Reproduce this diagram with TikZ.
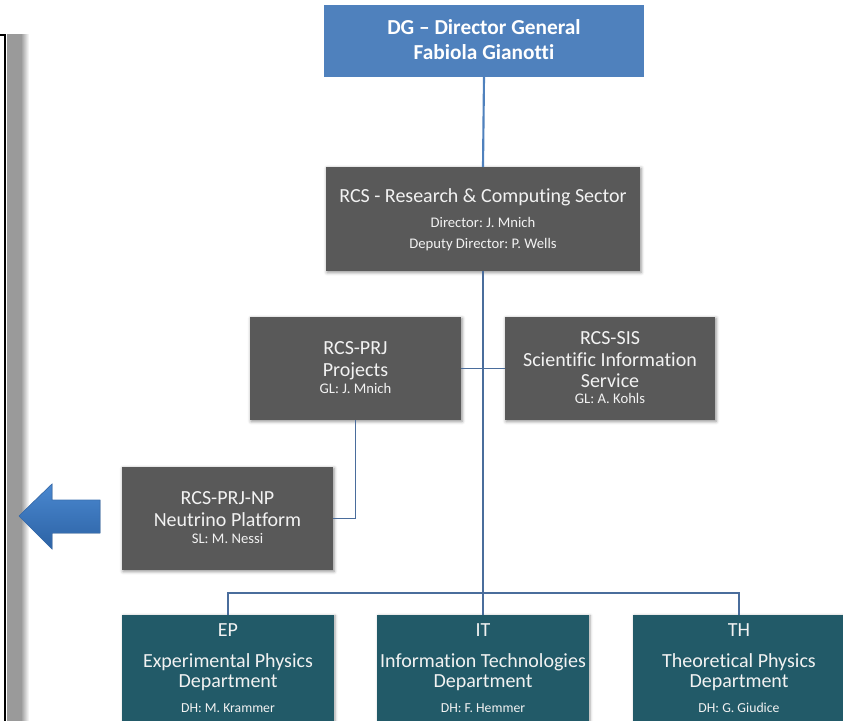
\documentclass[tikz,border=0pt]{standalone}
\usepackage{fontspec}
\setmainfont[Ligatures={NoCommon}]{Carlito}
\usetikzlibrary{shadows.blur,fadings}
\definecolor{dgblue}{HTML}{4F81BD}
\definecolor{boxgray}{HTML}{595959}
\definecolor{deptteal}{HTML}{225A68}
\definecolor{linkblue}{HTML}{4A6D9C}
\definecolor{bandgray}{HTML}{9A9A9A}
\definecolor{arrowtop}{HTML}{4A88D0}
\definecolor{arrowbot}{HTML}{2C62A4}
\definecolor{arrowedge}{HTML}{3A6FB0}
\newcommand\bigfnt{\fontsize{15}{17}\selectfont}
\newcommand\smallfnt{\fontsize{11}{13}\selectfont}
\newcommand\deptsmallfnt{\fontsize{10.3}{12}\selectfont}
\newcommand\dgfnt{\fontsize{16}{18}\selectfont\bfseries}
\begin{document}
\frenchspacing
\begin{tikzpicture}[x=0.75pt,y=-0.75pt,
  box/.style={draw=none, inner sep=0, outer sep=0, anchor=center},
  graybox/.style={box, fill=boxgray,
    blur shadow={shadow xshift=0.8pt, shadow yshift=-1pt, shadow blur radius=2.5pt, shadow opacity=45}},
  tealbox/.style={box, fill=deptteal,
    blur shadow={shadow xshift=1pt, shadow yshift=-0.5pt, shadow blur radius=2pt, shadow opacity=35}},
  dgbox/.style={box, fill=dgblue},
  big/.style={text=white!95!black, font=\bigfnt, anchor=base, inner sep=0},
  small/.style={text=white!95!black, font=\smallfnt, anchor=base, inner sep=0},
  deptsmall/.style={text=white!95!black, font=\deptsmallfnt, anchor=base, inner sep=0},
  dgtxt/.style={text=white, font=\dgfnt, anchor=base, inner sep=0},
  mainlink/.style={draw=dgblue, line width=1.6pt},
  link/.style={draw=linkblue, line width=1pt}
]
\useasboundingbox (0,0) rectangle (843,721);
\clip (0,0) rectangle (843,721);

% left frame with shadow band
\fill[bandgray] (7,34) rectangle (21,725);
\shade[left color=bandgray, right color=white] (21,34) rectangle (29,725);
\draw[line width=1.5pt] (0,35) -- (5,35) -- (5,725);

% blue arrow
\fill[top color=arrowtop, bottom color=arrowbot, draw=arrowedge, line width=0.5pt]
  (19,516) -- (52,484) -- (52,500) -- (100,500) -- (100,533) -- (52,533) -- (52,549) -- cycle;

% boxes
\node[dgbox, minimum width=240pt, minimum height=54pt] (dg) at (484,41) {};
\node[graybox, minimum width=235.5pt, minimum height=78pt] (rcs) at (483,219) {};
\node[graybox, minimum width=158.25pt, minimum height=77.25pt] (prj) at (355.5,368.5) {};
\node[graybox, minimum width=157.5pt, minimum height=77.25pt] (sis) at (610,368.5) {};
\node[graybox, minimum width=158.25pt, minimum height=77.25pt] (np) at (227.5,518.5) {};
\node[tealbox, minimum width=159pt, minimum height=90pt] (ep) at (228,675) {};
\node[tealbox, minimum width=159pt, minimum height=90pt] (it) at (483,675) {};
\node[tealbox, minimum width=159pt, minimum height=90pt] (th) at (739,675) {};

% connectors
\draw[mainlink] (dg.south) -- (rcs.north);
\draw[link] (rcs.south) -- (it.north);
\draw[link] (ep.north) -- ++(0,-22) -| (th.north);
\draw[link] (prj.east) -- (sis.west);
\draw[link] (prj.south) |- (np.east);

% texts
\node[dgtxt] (dg1) at (484,34) {DG – Director General};
\node[dgtxt] (dg2) at (484,60) {Fabiola Gianotti};

\node[big] (rcs1) at (483,202) {RCS - Research \& Computing Sector};
\node[small] (rcs2) at (483,227) {Director: J. Mnich};
\node[small] (rcs3) at (483,248) {Deputy Director: P. Wells};

\node[big] (prj1) at (355.5,354) {RCS-PRJ};
\node[big] (prj2) at (355.5,376) {Projects};
\node[small] (prj3) at (355.5,393) {GL: J. Mnich};

\node[big] (sis1) at (610,344) {RCS-SIS};
\node[big] (sis2) at (610,366) {Scientific Information};
\node[big] (sis3) at (610,387) {Service};
\node[small] (sis4) at (610,403) {GL: A. Kohls};

\node[big] (np1) at (227.5,504) {RCS-PRJ-NP};
\node[big] (np2) at (227.5,526) {Neutrino Platform};
\node[small] (np3) at (227.5,543) {SL: M. Nessi};

\node[big] (ep1) at (228,636) {EP};
\node[big] (ep2) at (228,667) {Experimental Physics};
\node[big] (ep3) at (228,687) {Department};
\node[deptsmall] (ep4) at (228,712) {DH: M. Krammer};

\node[big] (it1) at (483,636) {IT};
\node[big] (it2) at (483,667) {Information Technologies};
\node[big] (it3) at (483,687) {Department};
\node[deptsmall] (it4) at (483,712) {DH: F. Hemmer};

\node[big] (th1) at (739,636) {TH};
\node[big] (th2) at (739,667) {Theoretical Physics};
\node[big] (th3) at (739,687) {Department};
\node[deptsmall] (th4) at (739,712) {DH: G. Giudice};
\end{tikzpicture}
\end{document}
